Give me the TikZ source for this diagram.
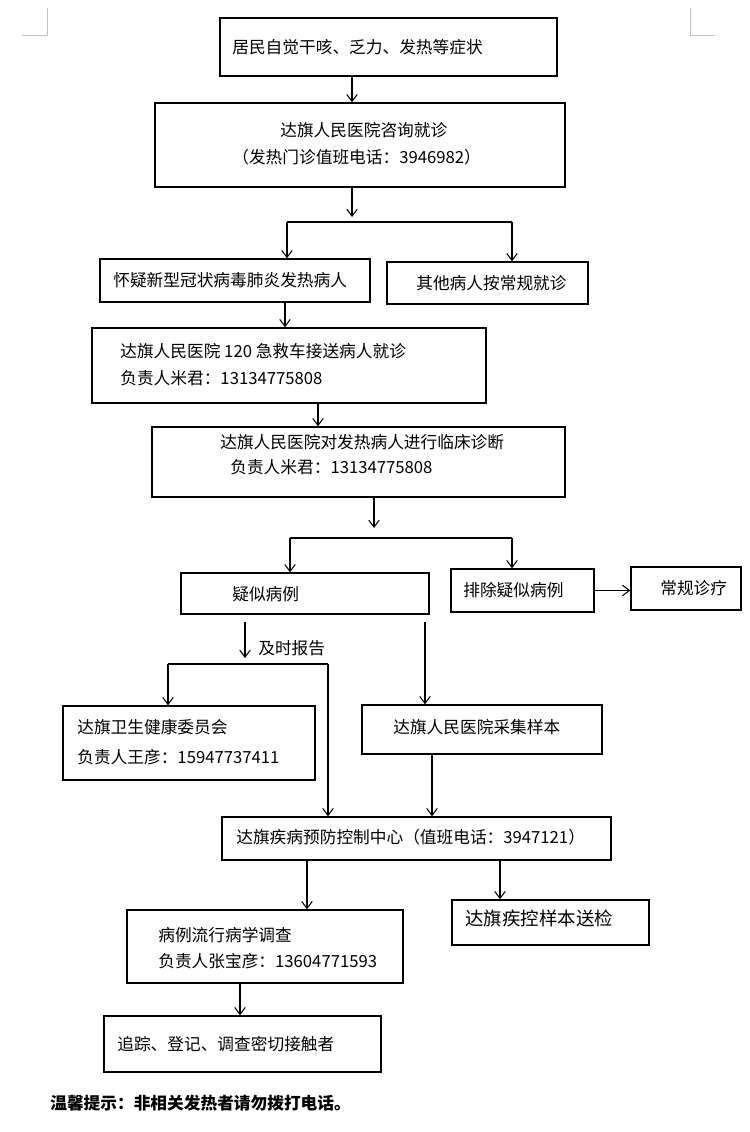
\documentclass[tikz,border=0pt]{standalone}
\usepackage{fontspec}
\setmainfont{Noto Sans CJK SC}
\usetikzlibrary{arrows.meta}
\tikzset{
  box/.style={draw, line width=0.8pt, inner sep=0pt},
  txt/.style={anchor=west, inner sep=0pt, font=\fontsize{9.5}{12}\selectfont},
  arr/.style={-{Straight Barb[length=4pt,width=6pt]}, line width=0.6pt},
  ln/.style={line width=0.6pt},
  cornermark/.style={gray!50, line width=0.5pt}
}
\begin{document}
\begin{tikzpicture}[x=0.02cm, y=-0.02cm]
\useasboundingbox (0,0) rectangle (750,1132);
% corner marks
\draw[cornermark] (22,35) -- (47,35) -- (47,8);
\draw[cornermark] (715,35) -- (690,35) -- (690,8);
% boxes
\node[box, minimum width=6.74cm, minimum height=1.16cm] (zz) at (388.5,47) {};
\node[box, minimum width=8.2cm, minimum height=1.68cm] (zx) at (360,145) {};
\node[box, minimum width=5.4cm, minimum height=0.86cm] (hy) at (235,280.5) {};
\node[box, minimum width=4.02cm, minimum height=0.84cm] (qt) at (487.5,283) {};
\node[box, minimum width=7.88cm, minimum height=1.5cm] (jj) at (289,365.5) {};
\node[box, minimum width=8.26cm, minimum height=1.4cm] (zd) at (358.5,462) {};
\node[box, minimum width=4.96cm, minimum height=0.82cm] (ys) at (305,593.5) {};
\node[box, minimum width=2.86cm, minimum height=0.86cm] (pc) at (522.5,590.5) {};
\node[box, minimum width=2.2cm, minimum height=0.86cm] (cg) at (686,588.5) {};
\node[box, minimum width=5.04cm, minimum height=1.48cm] (wj) at (189,743) {};
\node[box, minimum width=4.8cm, minimum height=0.98cm] (cj) at (482,729.5) {};
\node[box, minimum width=7.78cm, minimum height=0.86cm] (jk) at (416.5,838.5) {};
\node[box, minimum width=3.94cm, minimum height=0.9cm] (sj) at (550.5,922.5) {};
\node[box, minimum width=5.52cm, minimum height=1.46cm] (dc) at (265,946.5) {};
\node[box, minimum width=5.54cm, minimum height=1.12cm] (zj) at (242.5,1044) {};
% texts
\node[txt] (t1) at (232,47) {居民自觉干咳、乏力、发热等症状};
\node[txt] (t2a) at (280,130) {达旗人民医院咨询就诊};
\node[txt] (t2b) at (232,157) {（发热门诊值班电话：3946982）};
\node[txt] (t3) at (113,280) {怀疑新型冠状病毒肺炎发热病人};
\node[txt] (t4) at (416,283) {其他病人按常规就诊};
\node[txt] (t5a) at (120,351) {达旗人民医院 120 急救车接送病人就诊};
\node[txt] (t5b) at (120,378) {负责人米君：13134775808};
\node[txt] (t6a) at (220,442) {达旗人民医院对发热病人进行临床诊断};
\node[txt] (t6b) at (230,467) {负责人米君：13134775808};
\node[txt] (t7) at (232,594) {疑似病例};
\node[txt] (t8) at (463,590) {排除疑似病例};
\node[txt] (t9) at (660,588) {常规诊疗};
\node[txt] (t10a) at (77,727) {达旗卫生健康委员会};
\node[txt] (t10b) at (77,757) {负责人王彦：15947737411};
\node[txt] (t11) at (393,727) {达旗人民医院采集样本};
\node[txt] (t12) at (236,837) {达旗疾病预防控制中心（值班电话：3947121）};
\node[txt, font=\fontsize{10.5}{12}\selectfont] (t13) at (465,918) {达旗疾控样本送检};
\node[txt] (t14a) at (158,935) {病例流行病学调查};
\node[txt] (t14b) at (158,961) {负责人张宝彦：13604771593};
\node[txt] (t15) at (117,1044) {追踪、登记、调查密切接触者};
\node[txt] (bg) at (258,648) {及时报告};
\node[txt, font=\fontsize{9.5}{12}\selectfont\bfseries] (tip) at (50,1103) {温馨提示：非相关发热者请勿拨打电话。};
% connectors
\draw[arr] (352,0 |- zz.south) -- (352,0 |- zx.north);
\draw[arr] (352,0 |- zx.south) -- (352,217);
\draw[ln] (287,222) -- (512,222);
\draw[arr] (287,222) -- (287,0 |- hy.north);
\draw[arr] (512,222) -- (512,0 |- qt.north);
\draw[arr] (285,0 |- hy.south) -- (285,0 |- jj.north);
\draw[arr] (318,0 |- jj.south) -- (318,0 |- zd.north);
\draw[arr] (374,0 |- zd.south) -- (374,528);
\draw[ln] (290,538) -- (512,538);
\draw[arr] (290,538) -- (290,0 |- ys.north);
\draw[arr] (512,538) -- (512,0 |- pc.north);
\draw[arr] (pc.east) -- (pc.east -| cg.west);
\draw[arr] (245,622) -- (245,658);
\draw[ln] (168,664) -- (328,664);
\draw[arr] (168,664) -- (168,0 |- wj.north);
\draw[arr] (328,664) -- (328,0 |- jk.north);
\draw[arr] (425,622) -- (425,0 |- cj.north);
\draw[arr] (432,0 |- cj.south) -- (432,0 |- jk.north);
\draw[arr] (307,0 |- jk.south) -- (307,0 |- dc.north);
\draw[arr] (500,0 |- jk.south) -- (500,0 |- sj.north);
\draw[arr] (240,0 |- dc.south) -- (240,0 |- zj.north);
\end{tikzpicture}
\end{document}
